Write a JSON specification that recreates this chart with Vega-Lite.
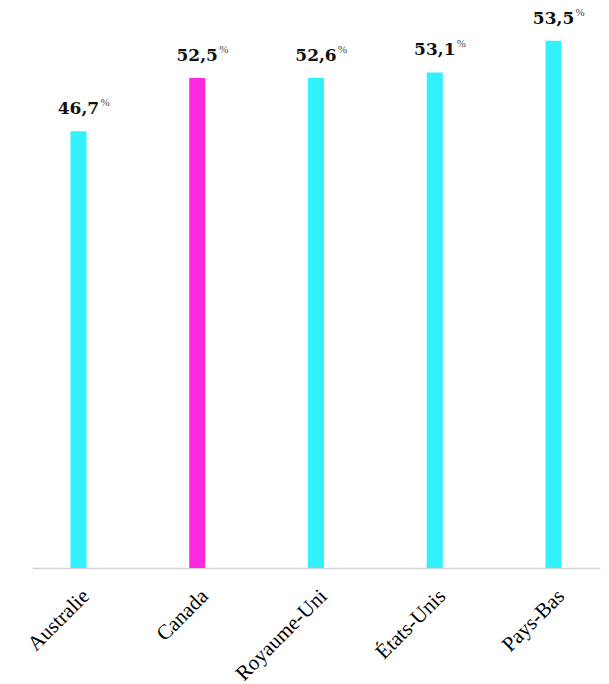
{
  "$schema": "https://vega.github.io/schema/vega-lite/v6.json",
  "autosize": "none",
  "width": 568,
  "height": 560,
  "padding": {"left": 32, "top": 8, "right": 9, "bottom": 116},
  "background": "white",
  "config": {"view": {"stroke": null}},
  "data": {"values": [
    {"pays": "Australie", "valeur": 46.8, "etiquette": "46,7", "couleur": "autre"},
    {"pays": "Canada", "valeur": 52.5, "etiquette": "52,5", "couleur": "canada"},
    {"pays": "Royaume-Uni", "valeur": 52.5, "etiquette": "52,6", "couleur": "autre"},
    {"pays": "États-Unis", "valeur": 53.1, "etiquette": "53,1", "couleur": "autre"},
    {"pays": "Pays-Bas", "valeur": 56.5, "etiquette": "53,5", "couleur": "autre"}
  ]},
  "encoding": {
    "x": {
      "field": "pays", "type": "nominal", "sort": null,
      "scale": {"paddingInner": 0.865, "paddingOuter": 0.324},
      "axis": {
        "title": null, "ticks": false, "labelAngle": -45,
        "labelFont": "Liberation Serif", "labelFontSize": 21, "labelColor": "#000000",
        "labelPadding": 17, "domainColor": "#d4d4d4", "domainWidth": 1.5, "grid": false
      }
    },
    "y": {
      "field": "valeur", "type": "quantitative",
      "scale": {"domain": [0, 60], "nice": false, "zero": true},
      "axis": null
    }
  },
  "layer": [
    {
      "mark": {"type": "bar"},
      "encoding": {
        "color": {
          "field": "couleur", "type": "nominal",
          "scale": {"domain": ["autre", "canada"], "range": ["#33f0fd", "#ff29e0"]},
          "legend": null
        }
      }
    },
    {
      "mark": {"type": "text", "font": "DejaVu Serif", "fontWeight": "bold", "fontSize": 17, "dy": -17, "baseline": "alphabetic", "align": "center", "color": "#111111"},
      "encoding": {"text": {"field": "etiquette"}}
    },
    {
      "mark": {"type": "text", "font": "Liberation Serif", "fontSize": 11, "dx": 22, "dy": -25, "baseline": "alphabetic", "align": "left", "color": "#444444", "text": "%"},
      "encoding": {}
    }
  ]
}
